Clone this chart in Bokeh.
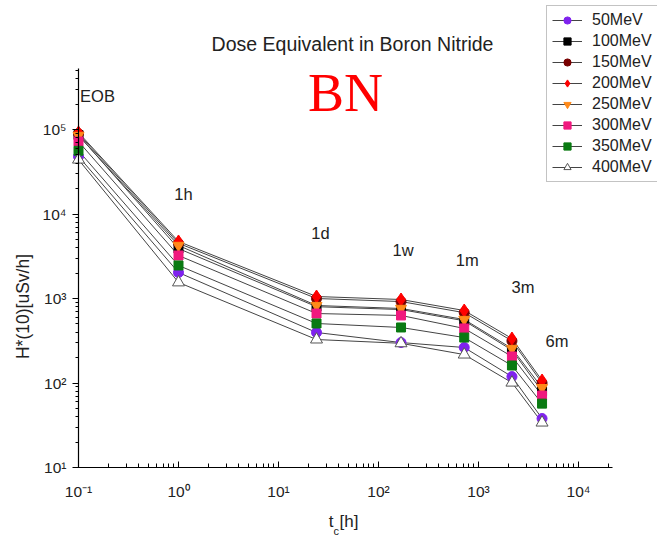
import math
from bokeh.plotting import figure
from bokeh.models import Range1d, Label, Legend, LegendItem, CustomJSTickFormatter
from bokeh.embed import file_html
from bokeh.resources import INLINE

# ---- data ----
times_h = [0.1, 1, 24, 168, 720, 2160, 4320]
time_labels = ["EOB", "1h", "1d", "1w", "1m", "3m", "6m"]
energy_names = ["50MeV", "100MeV", "150MeV", "200MeV", "250MeV", "300MeV", "350MeV", "400MeV"]
dose_50 = [48000, 2030, 396, 301, 263, 119, 38]
dose_100 = [86000, 3900, 800, 740, 545, 245, 80]
dose_150 = [89000, 4500, 1000, 920, 680, 315, 100]
dose_200 = [92000, 4730, 1056, 973, 721, 336, 107]
dose_250 = [85000, 4240, 826, 762, 564, 256, 88]
dose_300 = [72000, 3230, 664, 630, 442, 206, 71]
dose_350 = [56000, 2460, 506, 454, 345, 161, 57]
dose_400 = [44000, 1550, 327, 295, 217, 101, 34]
series = [dose_50, dose_100, dose_150, dose_200, dose_250, dose_300, dose_350, dose_400]
x_axis_bounds = (0.1, 10**4.34)
y_axis_bounds = (10, 10**5.72)

# ---- styles ----
markers = ["circle", "square", "circle", "diamond", "inverted_triangle", "square", "square", "triangle"]
fills = ["#7f22ee", "#000000", "#780000", "#ff0000", "#ff8a1a", "#f0197e", "#0a7a12", "#ffffff"]
edges = ["#7f22ee", "#000000", "#780000", "#ff0000", "#ff8a1a", "#f0197e", "#0a7a12", "#555555"]
sizes = [10, 9, 10, 13, 11, 9, 9, 12]
line_col = "#444444"
FONT = "Liberation Sans"
W, H = 657, 537

# pixel <-> data mapping of the plotting area (axis origin at px (78, 467))
def px_x(px):
    return 10 ** (-1 + (px - 78) / 100.0)

def px_y(py):
    return 10 ** (1 + (467 - py) / 84.5)

# annotation placement (y in data units, x offset in px)
label_y = [10**5.40, 10**4.24, 10**3.78, 10**3.57, 10**3.45, 10**3.14, 10**2.50]
label_dx = [19, 5, 4, 2, 3, 11, 15]

p = figure(width=W, height=H, x_axis_type="log", y_axis_type="log",
           x_range=Range1d(px_x(0), px_x(W)), y_range=Range1d(px_y(H), px_y(0)),
           output_backend="svg", toolbar_location=None,
           min_border=0, min_border_left=0, min_border_right=0,
           min_border_top=0, min_border_bottom=0)
p.xgrid.visible = False
p.ygrid.visible = False
p.outline_line_color = None
p.background_fill_color = "white"
p.border_fill_color = "white"

fmt = CustomJSTickFormatter(code="""
const e = Math.round(Math.log10(tick));
const sup = {'-':'\u207b','0':'\u2070','1':'\u00b9','2':'\u00b2','3':'\u00b3','4':'\u2074','5':'\u2075','6':'\u2076','7':'\u2077','8':'\u2078','9':'\u2079'};
return '10' + String(e).split('').map(c => sup[c]).join('');
""")
for ax in (p.xaxis[0], p.yaxis[0]):
    ax.formatter = fmt
    ax.axis_line_color = "black"
    ax.axis_line_width = 1.2
    ax.major_tick_line_color = "black"
    ax.minor_tick_line_color = "black"
    ax.major_label_text_font = FONT
    ax.major_label_text_font_size = "15.5px"
    ax.major_label_text_color = "#222222"
p.xaxis.fixed_location = y_axis_bounds[0]
p.yaxis.fixed_location = x_axis_bounds[0]
p.xaxis.bounds = x_axis_bounds
p.yaxis.bounds = y_axis_bounds
p.yaxis.major_tick_out = 6
p.yaxis.major_tick_in = 0
p.yaxis.minor_tick_out = 3
p.yaxis.minor_tick_in = 0
p.xaxis.major_tick_out = 0
p.xaxis.major_tick_in = 6
p.xaxis.minor_tick_out = 0
p.xaxis.minor_tick_in = 4
p.xaxis.major_label_standoff = 15
p.yaxis.major_label_standoff = 6

line_rs = []
for vals in series:
    line_rs.append(p.line(times_h, vals, line_color=line_col, line_width=1))
items = []
for i, vals in enumerate(series):
    sr = p.scatter(times_h, vals, marker=markers[i], size=sizes[i],
                   fill_color=fills[i], line_color=edges[i], line_width=1)
    items.append(LegendItem(label=energy_names[i], renderers=[line_rs[i], sr]))

legend = Legend(items=items, location=(546, H - 182), label_text_font=FONT,
                label_text_font_size="16px", label_text_color="#222222",
                glyph_width=30, glyph_height=18, label_height=18, spacing=3,
                label_standoff=10, padding=5, margin=0,
                border_line_color="#888888", border_line_width=1,
                background_fill_color="white", background_fill_alpha=1)
p.add_layout(legend)

# time annotations
for t, lab, ly, dx in zip(times_h, time_labels, label_y, label_dx):
    p.add_layout(Label(x=t, y=ly, text=lab, x_offset=dx, text_align="center",
                       text_baseline="middle", text_font=FONT, text_font_size="16.5px",
                       text_color="#222222"))

# title, BN, axis labels
p.add_layout(Label(x=px_x(352), y=px_y(43), text="Dose Equivalent in Boron Nitride",
                   text_align="center", text_baseline="middle", text_font=FONT,
                   text_font_size="19.5px", text_color="#222222"))
p.add_layout(Label(x=px_x(345), y=px_y(92), text="BN", text_align="center",
                   text_baseline="middle", text_font="Liberation Serif",
                   text_font_size="54px", text_color="#ff0000"))
p.add_layout(Label(x=px_x(22), y=px_y(306), text="H*(10)[uSv/h]", angle=math.pi / 2,
                   text_align="center", text_baseline="middle", text_font=FONT,
                   text_font_size="17.5px", text_color="#222222"))
p.add_layout(Label(x=px_x(333), y=px_y(521), text="t", text_align="right",
                   text_baseline="middle", text_font=FONT, text_font_size="17px",
                   text_color="#222222"))
p.add_layout(Label(x=px_x(333), y=px_y(530), text="c", text_align="left",
                   text_baseline="middle", text_font=FONT, text_font_size="11px",
                   text_color="#222222"))
p.add_layout(Label(x=px_x(339), y=px_y(521), text="[h]", text_align="left",
                   text_baseline="middle", text_font=FONT, text_font_size="17px",
                   text_color="#222222"))

open("out.html", "w").write(file_html(p, INLINE))
